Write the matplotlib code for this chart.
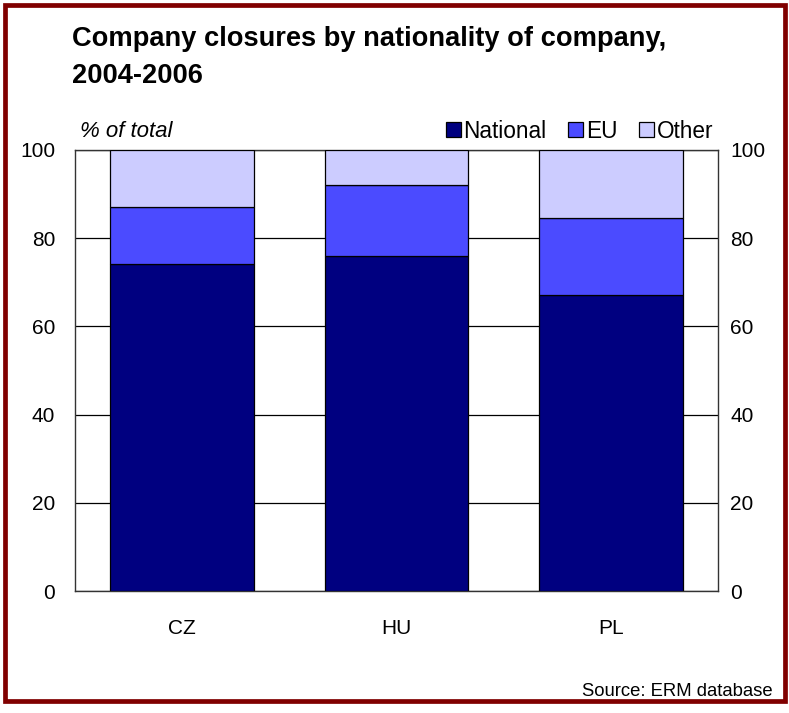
import matplotlib
matplotlib.use("Agg")
import matplotlib.pyplot as plt
from matplotlib.patches import Rectangle
import numpy as np

plt.rcParams['font.family'] = ['Liberation Sans', 'DejaVu Sans']

# Data: share of company closures (% of total) by company nationality
countries = ['CZ', 'HU', 'PL']
national = [74.2, 76.0, 67.1]
eu = [12.9, 16.0, 17.4]
other = [12.9, 8.0, 15.5]
series_names = ['National', 'EU', 'Other']
colors = ['#000080', '#4B4BFF', '#CCCCFF']
yticks = [0, 20, 40, 60, 80, 100]

W, H = 789, 713
fig = plt.figure(figsize=(W / 100, H / 100), dpi=100)

def fx(px):
    return px / W

def fy(py):
    return 1 - py / H

# Plot area
ax_l, ax_r, ax_t, ax_b = 74.7, 718.0, 149.7, 591.3
ax = fig.add_axes([fx(ax_l), fy(ax_b), fx(ax_r - ax_l), (ax_b - ax_t) / H])

x = np.arange(len(countries))
bottoms = np.zeros(len(countries))
handles = []
for vals, name, col in zip([national, eu, other], series_names, colors):
    b = ax.bar(x, vals, width=0.67, bottom=bottoms, color=col,
               edgecolor='black', linewidth=0.9, label=name, zorder=3)
    handles.append(b)
    bottoms += np.array(vals)

ax.set_xlim(-0.5, 2.5)
ax.set_ylim(0, 100)
ax.set_yticks(yticks)
ax.set_xticks(x)
ax.set_xticklabels(countries)
ax.yaxis.grid(True, color='black', linewidth=0.9, zorder=0)
ax.set_axisbelow(True)
for sp in ax.spines.values():
    sp.set_color('#333333')
    sp.set_linewidth(1.0)
ax.tick_params(axis='y', length=0, pad=14, labelsize=15)
ax.tick_params(axis='x', length=0, pad=20, labelsize=15)

# Right-hand axis labels mirror the left scale
ax2 = ax.twinx()
ax2.set_ylim(0, 100)
ax2.set_yticks(yticks)
ax2.tick_params(axis='y', length=0, pad=9, labelsize=15)
for sp in ax2.spines.values():
    sp.set_visible(False)

# Legend above the plot area, right-aligned
leg = ax.legend(handles=handles, labels=series_names, ncol=3, frameon=False,
                loc='lower right', bbox_to_anchor=((713 - ax_l) / (ax_r - ax_l), 1.016),
                borderaxespad=0, borderpad=0, handlelength=0.66, handleheight=0.66,
                handletextpad=0.12, columnspacing=0.95, fontsize=16.3)

# Titles and annotations
fig.text(fx(72), fy(45.7), 'Company closures by nationality of company,',
         fontsize=19.6, fontweight='bold', ha='left', va='baseline')
fig.text(fx(72), fy(83.3), '2004-2006',
         fontsize=19.6, fontweight='bold', ha='left', va='baseline')
fig.text(fx(80), fy(137), '% of total', fontsize=16, style='italic',
         ha='left', va='baseline')
fig.text(fx(773), fy(696), 'Source: ERM database', fontsize=13.3,
         ha='right', va='baseline')

# Dark red frame around the whole figure
fig.patches.append(Rectangle((fx(5), fy(701)), fx(780), (701 - 5) / H,
                             transform=fig.transFigure, fill=False,
                             edgecolor='#800000', linewidth=3.4, zorder=10))

fig.savefig('out.png', dpi=100)
